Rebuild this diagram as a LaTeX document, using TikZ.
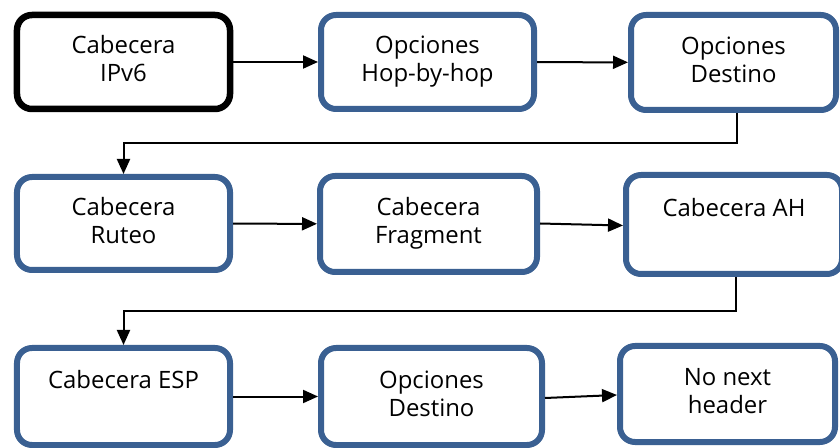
\documentclass[tikz,border=0pt]{standalone}
\usepackage{fontspec}
\setmainfont{Open Sans}
\usetikzlibrary{arrows.meta}
\definecolor{hdrblue}{RGB}{58,96,146}
% two centred lines of equal height, the second may be empty
\newcommand\twolines[2]{\strut#1\\\strut#2}

\begin{document}
\begin{tikzpicture}[x=1bp,y=-1bp,
  hdr/.style={draw=hdrblue, line width=6bp, rounded corners=15bp, fill=white,
    align=center, inner sep=0pt, font=\fontsize{24}{28}\selectfont},
  first/.style={hdr, draw=black, line width=6.5bp},
  link/.style={line width=2bp, -{Triangle[length=15bp,width=13bp]}}]
\useasboundingbox (0,0) rectangle (840,448);
\clip (0,0) rectangle (840,448);

% row 1
\node[first, minimum width=213bp, minimum height=94bp] (ipv6) at (123.5,62)
  {\twolines{Cabecera}{IPv6}};
\node[hdr, minimum width=213bp, minimum height=94bp] (hop) at (427.5,62)
  {\twolines{Opciones}{Hop-by-hop}};
\node[hdr, minimum width=205bp, minimum height=95bp] (dest1) at (733.5,62.5)
  {\twolines{Opciones}{Destino}};

% row 2
\node[hdr, minimum width=213bp, minimum height=93bp] (ruteo) at (123.5,223.5)
  {\twolines{Cabecera}{Ruteo}};
\node[hdr, minimum width=217bp, minimum height=96bp] (frag) at (428.5,224)
  {\twolines{Cabecera}{Fragment}};
\node[hdr, minimum width=216bp, minimum height=99bp] (ah) at (734,224.5)
  {\twolines{Cabecera AH}{}};

% row 3
\node[hdr, minimum width=213bp, minimum height=97bp] (esp) at (123.5,396.5)
  {\twolines{Cabecera ESP}{}};
\node[hdr, minimum width=221bp, minimum height=97bp] (dest2) at (431.5,396.5)
  {\twolines{Opciones}{Destino}};
\node[hdr, minimum width=215bp, minimum height=96bp] (nonext) at (727.5,394)
  {\twolines{No next}{header}};

% chain of next-header links
\draw[link] (ipv6) -- (hop);
\draw[link] (hop) -- (dest1);
\draw[link] ([xshift=3bp]dest1.south) -- ++(0,30) -| (ruteo.north);
\draw[link] (ruteo) -- (frag);
\draw[link] ([yshift=0.5bp]frag.east) -- ([yshift=-1bp]ah.west);
\draw[link] ([xshift=2bp]ah.south) -- ++(0,34) -| (esp.north);
\draw[link] (esp) -- (dest2);
\draw[link] ([yshift=-1.5bp]dest2.east) -- ([yshift=-1bp]nonext.west);
\end{tikzpicture}
\end{document}
